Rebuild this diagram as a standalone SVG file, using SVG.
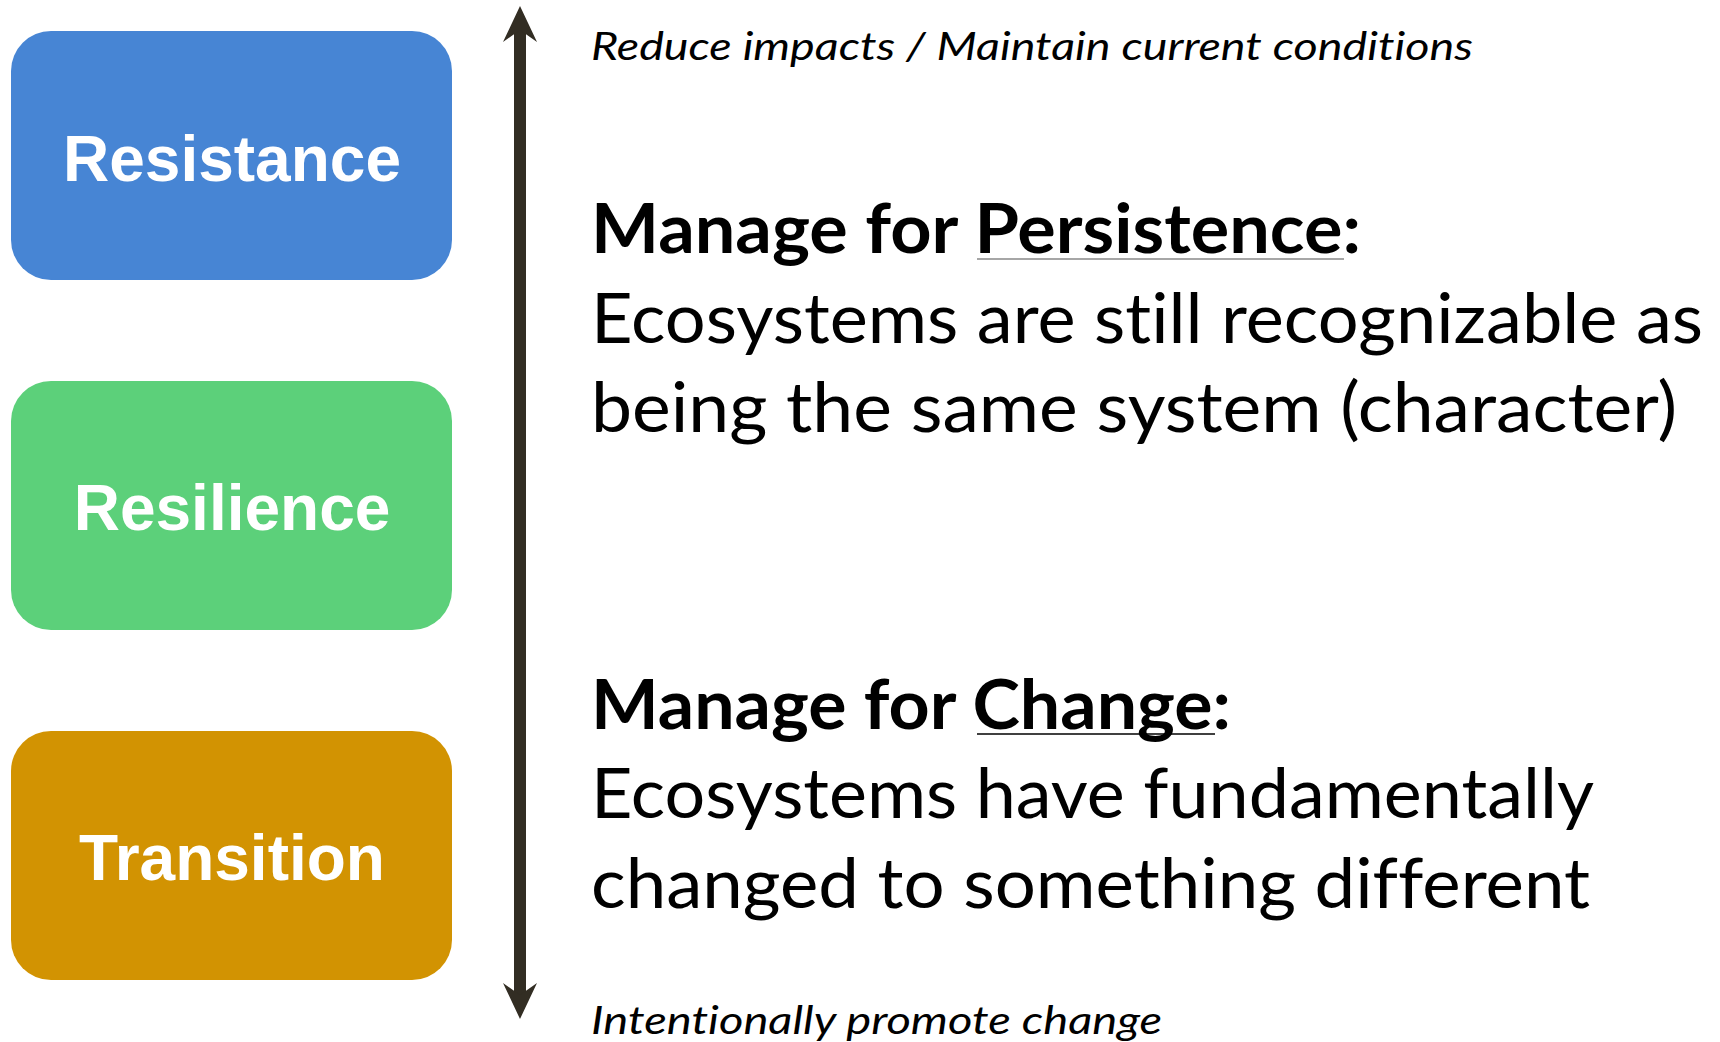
<svg xmlns="http://www.w3.org/2000/svg" width="1720" height="1042" viewBox="0 0 1720 1042">
  <style>
    text { font-variant-ligatures: none; font-feature-settings: "liga" 0, "clig" 0; }
    .box-label { font-family: "Liberation Sans", Arial, sans-serif; font-weight: bold; font-size: 64px; fill: #ffffff; text-anchor: middle; }
    .note { font-family: Lato, "Open Sans", sans-serif; font-style: italic; font-size: 38px; fill: #000000; }
    .head { font-family: Lato, "Open Sans", sans-serif; font-weight: bold; font-size: 69px; fill: #000000; }
    .body { font-family: Lato, "Open Sans", sans-serif; font-size: 69px; fill: #000000; }
    .axis { stroke: #322d23; stroke-width: 12; fill: none; }
  </style>
  <defs>
    <marker id="arrowhead" markerUnits="userSpaceOnUse" markerWidth="40" markerHeight="40" viewBox="0 0 40 40" refX="12" refY="17" orient="auto-start-reverse">
      <path d="M36,17 L0,0 L12,17 L0,34 Z" fill="#322d23"/>
    </marker>
  </defs>

  <rect width="1720" height="1042" fill="#ffffff"/>

  <g id="node-resistance">
    <rect x="11" y="31" width="441" height="249" rx="40" ry="40" fill="#4785d4"/>
    <text class="box-label" x="232" y="181">Resistance</text>
  </g>
  <g id="node-resilience">
    <rect x="11" y="381" width="441" height="249" rx="40" ry="40" fill="#5cd07a"/>
    <text class="box-label" x="232" y="530">Resilience</text>
  </g>
  <g id="node-transition">
    <rect x="11" y="731" width="441" height="249" rx="40" ry="40" fill="#d29302"/>
    <text class="box-label" x="232" y="880">Transition</text>
  </g>

  <g id="connectors">
    <line class="axis" x1="520" y1="30" x2="520" y2="995" marker-start="url(#arrowhead)" marker-end="url(#arrowhead)"/>
  </g>

  <g id="text-top">
    <text class="note" x="591" y="60" textLength="882" lengthAdjust="spacingAndGlyphs">Reduce impacts / Maintain current conditions</text>
  </g>

  <g id="text-persistence">
    <text class="head" x="591" y="253" textLength="770" lengthAdjust="spacingAndGlyphs">Manage for Persistence:</text>
    <line x1="977" y1="259" x2="1344" y2="259" stroke="#a6a6a6" stroke-width="2"/>
    <text class="body" x="591" y="343" textLength="1112" lengthAdjust="spacingAndGlyphs">Ecosystems are still recognizable as</text>
    <text class="body" x="591" y="432" textLength="1086" lengthAdjust="spacingAndGlyphs">being the same system (character)</text>
  </g>

  <g id="text-change">
    <text class="head" x="591" y="729" textLength="640" lengthAdjust="spacingAndGlyphs">Manage for Change:</text>
    <line x1="977" y1="734" x2="1215" y2="734" stroke="#000000" stroke-width="1.5"/>
    <text class="body" x="591" y="818" textLength="1003" lengthAdjust="spacingAndGlyphs">Ecosystems have fundamentally</text>
    <text class="body" x="591" y="908" textLength="999" lengthAdjust="spacingAndGlyphs">changed to something different</text>
  </g>

  <g id="text-bottom">
    <text class="note" x="591" y="1034" textLength="571" lengthAdjust="spacingAndGlyphs">Intentionally promote change</text>
  </g>
</svg>
